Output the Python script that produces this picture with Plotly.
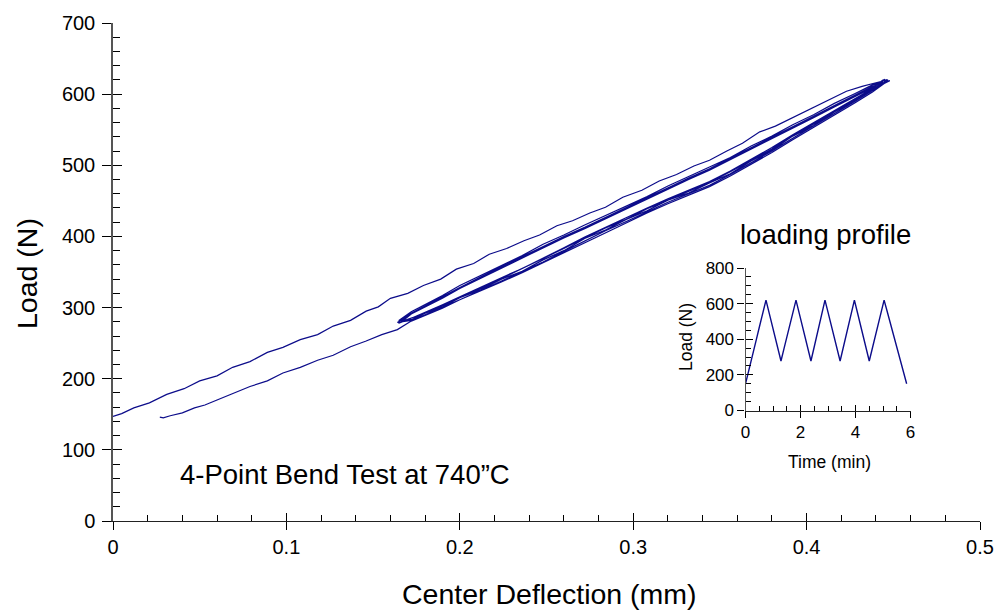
import plotly.graph_objects as go

FONT = "Liberation Sans, Arial, sans-serif"
LINE = "#0c0c8a"

# ---------------- main chart data: center deflection (mm) vs load (N) ----------------
init_defl = [0.027, 0.029, 0.033, 0.040, 0.047, 0.053, 0.060, 0.069, 0.079, 0.089,
             0.098, 0.108, 0.118, 0.127, 0.137, 0.146, 0.155, 0.164, 0.172]
init_load = [146, 145, 148, 152, 159, 163, 170, 179, 189, 197,
             208, 216, 226, 233, 245, 253, 262, 269, 281]

band_defl = [0.172, 0.180, 0.190, 0.200, 0.212, 0.224, 0.236, 0.248, 0.260, 0.272,
             0.284, 0.296, 0.308, 0.320, 0.332, 0.344, 0.356, 0.368, 0.380, 0.392,
             0.404, 0.416, 0.428, 0.438]
peak_defl = [0.446, 0.444, 0.448, 0.445, 0.447]
trough_defl = [0.165, 0.166, 0.164, 0.167]

load1_band = [289, 299, 311, 323, 336, 349, 363, 377, 392, 406, 419, 433, 446, 458,
              470, 485, 501, 518, 536, 553, 570, 588, 603, 617]
load2 = [278, 285, 293, 304, 315, 329, 342, 355, 369, 384, 399, 413, 426, 440, 453,
         465, 477, 492, 508, 525, 543, 560, 577, 595, 608, 620]
load3 = [280, 283, 292, 301, 314, 325, 340, 351, 367, 380, 397, 409, 424, 436, 451,
         461, 475, 488, 506, 521, 541, 556, 575, 591, 607, 619]
load4 = [279, 282, 290, 300, 311, 324, 337, 350, 364, 379, 394, 408, 421, 435, 448,
         460, 472, 487, 503, 520, 538, 555, 572, 590, 605, 617]
load5 = [281, 285, 292, 303, 315, 327, 341, 354, 368, 383, 398, 412, 424, 439, 451,
         464, 476, 491, 507, 523, 542, 558, 576, 593, 607, 620]

unload1 = [620, 613, 601, 587, 571, 557, 541, 527, 511, 498, 484, 471, 456, 443, 429,
           416, 402, 389, 373, 359, 345, 331, 317, 304, 294, 282]
unload2 = [618, 609, 597, 582, 567, 552, 537, 522, 507, 493, 480, 466, 452, 438, 425,
           411, 398, 384, 369, 355, 341, 327, 313, 301, 291, 280]
unload3 = [619, 611, 599, 584, 569, 554, 539, 524, 509, 495, 482, 468, 454, 440, 427,
           413, 400, 386, 371, 357, 343, 328, 315, 302, 292, 279]
unload4 = [621, 610, 598, 583, 568, 553, 538, 523, 508, 494, 481, 467, 453, 439, 426,
           412, 399, 385, 370, 356, 342, 328, 314, 301, 291, 281]

final_defl = [0.446, 0.440, 0.432, 0.423, 0.412, 0.402, 0.392, 0.382, 0.373, 0.363,
              0.354, 0.344, 0.335, 0.325, 0.315, 0.305, 0.294, 0.284, 0.275, 0.265,
              0.256, 0.246, 0.237, 0.227, 0.217, 0.208, 0.198, 0.189, 0.179, 0.170,
              0.160, 0.153, 0.146, 0.137, 0.127, 0.118, 0.108, 0.098, 0.089, 0.079,
              0.069, 0.060, 0.050, 0.041, 0.031, 0.021, 0.012, 0.005, 0.000]
final_load = [619, 616, 611, 604, 591, 579, 567, 555, 547, 531,
              520, 507, 499, 487, 478, 465, 455, 441, 433, 422,
              415, 402, 394, 383, 375, 362, 354, 340, 331, 320,
              313, 301, 295, 282, 274, 262, 255, 244, 237, 224,
              216, 204, 197, 186, 178, 166, 159, 151, 147]

# ---------------- inset data: loading profile ----------------
time_min = [0.00, 0.03, 0.10, 0.20, 0.30, 0.40, 0.50, 0.60, 0.70, 0.745,
            0.85, 0.95, 1.05, 1.15, 1.25, 1.29,
            1.40, 1.50, 1.60, 1.70, 1.80, 1.836,
            1.95, 2.05, 2.15, 2.25, 2.35, 2.38,
            2.50, 2.60, 2.70, 2.80, 2.89,
            3.00, 3.10, 3.20, 3.30, 3.40, 3.44,
            3.50, 3.60, 3.70, 3.80, 3.90, 3.96,
            4.05, 4.15, 4.25, 4.35, 4.45, 4.50,
            4.60, 4.70, 4.80, 4.90, 5.00, 5.04,
            5.15, 5.25, 5.35, 5.45, 5.55, 5.65, 5.75, 5.86]
profile_load = [150, 168, 213, 276, 339, 402, 466, 529, 592, 620,
                554, 491, 429, 366, 303, 278,
                347, 409, 472, 535, 597, 620,
                548, 485, 423, 360, 297, 278,
                358, 425, 492, 560, 620,
                552, 489, 427, 365, 303, 278,
                317, 383, 449, 515, 581, 620,
                563, 500, 436, 373, 310, 278,
                341, 405, 468, 531, 595, 620,
                557, 500, 443, 385, 328, 270, 213, 150]

# ---------------- assemble the continuous test path ----------------
loads = [None, load2, load3, load4, load5]
unloads = [unload1, unload2, unload3, unload4]
xs = init_defl + band_defl[1:] + [peak_defl[0]]
ys = init_load + load1_band
for k in range(4):
    xs += [peak_defl[k]] + band_defl[::-1] + [trough_defl[k]]
    ys += unloads[k]
    xs += [trough_defl[k]] + band_defl + [peak_defl[k + 1]]
    ys += loads[k + 1]
xs += [peak_defl[4]] + final_defl[1:]
ys += [load5[-1]] + final_load[1:]

fig = go.Figure()
fig.add_trace(go.Scatter(x=xs, y=ys, mode="lines", line=dict(color=LINE, width=1.2),
                         xaxis="x", yaxis="y", showlegend=False, hoverinfo="skip"))
fig.add_trace(go.Scatter(x=time_min, y=profile_load, mode="lines",
                         line=dict(color=LINE, width=1.4),
                         xaxis="x2", yaxis="y2", showlegend=False, hoverinfo="skip"))
# invisible traces to realise the overlay tick axes
fig.add_trace(go.Scatter(x=[None], y=[None], xaxis="x3", yaxis="y3", showlegend=False))
fig.add_trace(go.Scatter(x=[None], y=[None], xaxis="x4", yaxis="y4", showlegend=False))

L, R, T, B = 113, 17, 23, 90
W, H = 997, 611
PW, PH = W - L - R, H - T - B


def px(xp):
    return (xp - L) / PW


def py(yp):
    return (H - B - yp) / PH


base = dict(showgrid=False, zeroline=False, tickcolor="#000", tickwidth=1, automargin=False,
            tickfont=dict(family=FONT, size=20, color="#000"))
inset = dict(showgrid=False, zeroline=False, tickcolor="#000", tickwidth=1, automargin=False,
             tickfont=dict(family=FONT, size=17, color="#000"))
ix0, ix1 = px(745.5), px(910.5)
iy0, iy1 = py(410.5), py(268)

fig.update_layout(
    width=W, height=H,
    margin=dict(l=L, r=R, t=T, b=B, autoexpand=False),
    paper_bgcolor="white", plot_bgcolor="white",
    font=dict(family=FONT, color="#000"),
    xaxis=dict(base, domain=[0, 1], range=[0, 0.5], dtick=0.1, tick0=0,
               ticks="outside", ticklen=8, showline=True, linecolor="#222",
               linewidth=1, anchor="y"),
    yaxis=dict(base, domain=[0, 1], range=[0, 700], dtick=100, tick0=0,
               ticks="outside", ticklen=9, showline=True, linecolor="#555",
               linewidth=1.5, anchor="x", ticklabelstandoff=3),
    xaxis3=dict(base, overlaying="x", anchor="y", range=[0, 0.5], dtick=0.1, tick0=0,
                ticks="inside", ticklen=8, showticklabels=False, showline=False,
                minor=dict(ticks="inside", ticklen=6, dtick=0.02, tick0=0,
                           tickcolor="#000", tickwidth=1)),
    yaxis3=dict(base, overlaying="y", anchor="x", range=[0, 700], dtick=100, tick0=0,
                ticks="inside", ticklen=9, showticklabels=False, showline=False,
                minor=dict(ticks="inside", ticklen=7, dtick=20, tick0=0,
                           tickcolor="#000", tickwidth=1)),
    xaxis2=dict(inset, domain=[ix0, ix1], range=[0, 6], dtick=2, tick0=0,
                ticks="outside", ticklen=6, showline=True, linecolor="#222",
                linewidth=1, anchor="y2"),
    yaxis2=dict(inset, domain=[iy0, iy1], range=[0, 800], dtick=200, tick0=0,
                ticks="outside", ticklen=7, showline=True, linecolor="#555",
                linewidth=1.2, anchor="x2"),
    xaxis4=dict(inset, overlaying="x2", anchor="y2", range=[0, 6], dtick=2, tick0=0,
                ticks="inside", ticklen=6, showticklabels=False, showline=False,
                minor=dict(ticks="inside", ticklen=5, dtick=0.5, tick0=0,
                           tickcolor="#000", tickwidth=1)),
    yaxis4=dict(inset, overlaying="y2", anchor="x2", range=[0, 800], dtick=200, tick0=0,
                ticks="inside", ticklen=7, showticklabels=False, showline=False,
                minor=dict(ticks="inside", ticklen=5, dtick=50, tick0=0,
                           tickcolor="#000", tickwidth=1)),
)

ann = [
    dict(text="Center Deflection (mm)", x=px(549), y=py(594), size=28.5, angle=0, xa="center"),
    dict(text="Load (N)", x=px(27), y=py(274), size=28.5, angle=-90, xa="center"),
    dict(text="4-Point Bend Test at 740\u201dC", x=px(178), y=py(474), size=27.5, angle=0, xa="left"),
    dict(text="loading profile", x=px(825), y=py(234), size=27.5, angle=0, xa="center"),
    dict(text="Load (N)", x=px(686), y=py(337), size=17.5, angle=-90, xa="center"),
    dict(text="Time (min)", x=px(829), y=py(462), size=17.5, angle=0, xa="center"),
]
for a in ann:
    fig.add_annotation(text=a["text"], x=a["x"], y=a["y"], xref="paper", yref="paper",
                       showarrow=False, textangle=a["angle"], xanchor=a["xa"],
                       yanchor="middle", font=dict(family=FONT, size=a["size"], color="#000"))

fig.write_html("out.html", config={"displayModeBar": False},
               post_script="document.body.style.margin='0';document.body.style.overflow='hidden';")
